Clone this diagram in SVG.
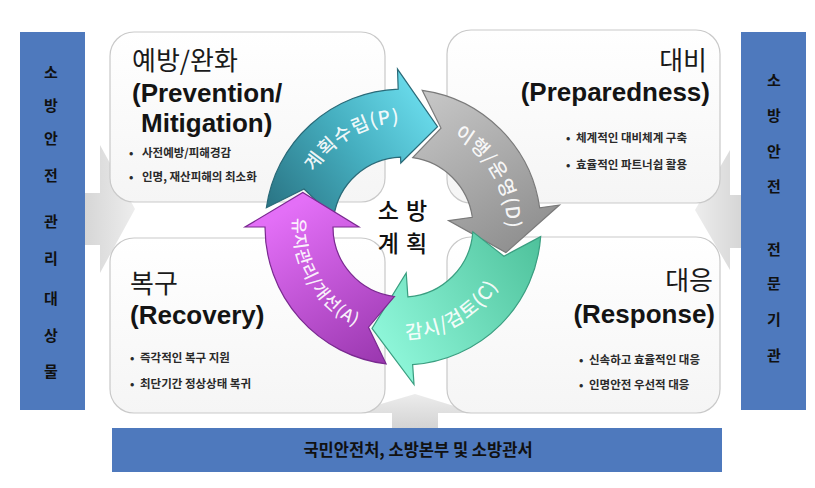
<svg xmlns="http://www.w3.org/2000/svg" width="815" height="488" viewBox="0 0 815 488">
<defs>
<style>
.bar{fill:#4e79bd}
.bart{font-family:"Noto Sans CJK KR","Noto Sans",sans-serif;font-weight:bold;font-size:15px;fill:#111;text-anchor:middle}
.box{fill:url(#boxg);stroke:#c9c9c9;stroke-width:1.2}
.ko{font-family:"Noto Sans CJK KR",sans-serif;font-size:26px;fill:#1a1a1a}
.en{font-family:"Liberation Sans",Arial,sans-serif;font-weight:bold;font-size:26px;fill:#141414}
.bul{font-family:"Noto Sans CJK KR",sans-serif;font-weight:bold;font-size:11.5px;fill:#2a2a2a}
.lbl{font-family:"Noto Sans CJK KR",sans-serif;font-weight:500;font-size:19px;fill:#ffffff;fill-opacity:0.92;letter-spacing:1px}
.ctr{font-family:"Noto Sans CJK KR",sans-serif;font-weight:500;font-size:23px;fill:#111;text-anchor:middle;letter-spacing:1px}
.end{text-anchor:end}
</style>
<linearGradient id="boxg" x1="0" y1="0" x2="0" y2="1"><stop offset="0" stop-color="#ffffff"/><stop offset="1" stop-color="#f5f5f5"/></linearGradient>
<linearGradient id="gh" x1="0" y1="0" x2="1" y2="0"><stop offset="0" stop-color="#d6d6d6"/><stop offset="1" stop-color="#ededed"/></linearGradient>
<linearGradient id="gv" x1="0" y1="1" x2="0" y2="0"><stop offset="0" stop-color="#d4d4d4"/><stop offset="1" stop-color="#ececec"/></linearGradient>
<linearGradient id="gTeal" gradientUnits="userSpaceOnUse" x1="275" y1="215" x2="440" y2="95"><stop offset="0" stop-color="#2a7585"/><stop offset="0.5" stop-color="#45aebf"/><stop offset="1" stop-color="#6fe2f2"/></linearGradient>
<linearGradient id="gGray" gradientUnits="userSpaceOnUse" x1="420" y1="90" x2="520" y2="250"><stop offset="0" stop-color="#c8c8c8"/><stop offset="1" stop-color="#8f8f8f"/></linearGradient>
<linearGradient id="gGreen" gradientUnits="userSpaceOnUse" x1="540" y1="240" x2="375" y2="340"><stop offset="0" stop-color="#4fc29c"/><stop offset="1" stop-color="#8ff7da"/></linearGradient>
<linearGradient id="gMag" gradientUnits="userSpaceOnUse" x1="390" y1="365" x2="295" y2="205"><stop offset="0" stop-color="#9836ad"/><stop offset="1" stop-color="#e36ff7"/></linearGradient>
<path id="tpP" d="M302.54,200.08 A104,104 0 0 1 429.92,126.54"/>
<path id="tpD" d="M429.92,126.54 A104,104 0 0 1 503.46,253.92"/>
<path id="tpC" d="M374.01,335.18 A112,112 0 0 0 511.18,255.99"/>
<path id="tpA" d="M296.75,198.53 A110,110 0 0 0 374.53,333.25"/>
</defs>
<rect width="815" height="488" fill="#ffffff"/>

<g id="connectors">
<polygon fill="url(#gh)" points="85,193 100,193 100,145 135,209 100,273 100,245 85,245"/>
<polygon fill="url(#gh)" transform="translate(826,0) scale(-1,1)" points="85,195 96,195 96,150 131,210 96,270 96,248 85,248"/>
<polygon fill="url(#gv)" points="392,428 392,413 350,413 415,394 477,413 438,413 438,428"/>
</g>

<g id="bar-left">
<rect class="bar" x="20" y="32" width="65" height="378"/>
<text class="bart" x="51" y="77.5">소</text>
<text class="bart" x="51" y="110.5">방</text>
<text class="bart" x="51" y="143.5">안</text>
<text class="bart" x="51" y="180.5">전</text>
<text class="bart" x="51" y="226.5">관</text>
<text class="bart" x="51" y="263.5">리</text>
<text class="bart" x="51" y="303.5">대</text>
<text class="bart" x="51" y="340.5">상</text>
<text class="bart" x="51" y="376.5">물</text>
</g>

<g id="bar-right">
<rect class="bar" x="741" y="32" width="65" height="378"/>
<text class="bart" x="774" y="85.5">소</text>
<text class="bart" x="774" y="120.5">방</text>
<text class="bart" x="774" y="156.5">안</text>
<text class="bart" x="774" y="191.5">전</text>
<text class="bart" x="774" y="254.5">전</text>
<text class="bart" x="774" y="288.5">문</text>
<text class="bart" x="774" y="324.5">기</text>
<text class="bart" x="774" y="360.5">관</text>
</g>

<g id="bar-bottom">
<rect class="bar" x="112" y="428" width="610" height="44"/>
<text class="bart" x="418" y="456" style="font-size:16.5px">국민안전처, 소방본부 및 소방관서</text>
</g>

<g id="box-prevention">
<rect class="box" x="110" y="32" width="275" height="170" rx="24"/>
<text class="ko" x="132" y="70">예방/완화</text>
<text class="en" x="132" y="102">(Prevention/</text>
<text class="en" x="141" y="132">Mitigation)</text>
<text class="bul" x="129" y="157">•<tspan x="142">사전예방/피해경감</tspan></text>
<text class="bul" x="129" y="181">•<tspan x="142">인명, 재산피해의 최소화</tspan></text>
</g>

<g id="box-preparedness">
<rect class="box" x="447" y="30" width="273" height="173" rx="24"/>
<text class="ko end" x="707" y="70">대비</text>
<text class="en end" x="710" y="101">(Preparedness)</text>
<text class="bul" x="566" y="142">•<tspan x="576">체계적인 대비체계 구축</tspan></text>
<text class="bul" x="566" y="169">•<tspan x="576">효율적인 파트너쉽 활용</tspan></text>
</g>

<g id="box-recovery">
<rect class="box" x="110" y="238" width="275" height="175" rx="24"/>
<text class="ko" x="130" y="293">복구</text>
<text class="en" x="130" y="324">(Recovery)</text>
<text class="bul" x="130" y="362">•<tspan x="140">즉각적인 복구 지원</tspan></text>
<text class="bul" x="130" y="388">•<tspan x="140">최단기간 정상상태 복귀</tspan></text>
</g>

<g id="box-response">
<rect class="box" x="447" y="237" width="273" height="176" rx="24"/>
<text class="ko end" x="713" y="290">대응</text>
<text class="en end" x="715" y="323">(Response)</text>
<text class="bul" x="579" y="364">•<tspan x="589">신속하고 효율적인 대응</tspan></text>
<text class="bul" x="579" y="389">•<tspan x="589">인명안전 우선적 대응</tspan></text>
</g>

<g id="arrow-plan">
<path fill="url(#gTeal)" stroke="#2a6a78" stroke-width="1.2" d="M266.34,207.79 A138,138 0 0 1 398.18,89.08 L397.49,69.10 L437.51,126.77 L400.77,163.04 L400.56,157.04 A70,70 0 0 0 333.68,217.26 L304.04,189.01 Z"/>
<text class="lbl"><textPath href="#tpP" startOffset="50%" text-anchor="middle">계획수립(P)</textPath></text>
</g>

<g id="arrow-do">
<path fill="url(#gGray)" stroke="#7a7a7a" stroke-width="1.2" d="M422.21,90.34 A138,138 0 0 1 539.66,207.79 L559.46,205.01 L505.85,252.64 L448.55,220.60 L472.32,217.26 A70,70 0 0 0 412.74,157.68 L440.99,128.04 Z"/>
<text class="lbl"><textPath href="#tpD" startOffset="50%" text-anchor="middle">이행/운영(D)</textPath></text>
</g>

<g id="arrow-check">
<path fill="url(#gGreen)" stroke="#3a9e80" stroke-width="1.2" d="M540.66,236.63 A138,138 0 0 1 412.63,364.66 L414.02,384.62 L372.01,328.37 L406.21,272.89 L407.88,296.83 A70,70 0 0 0 472.83,231.88 L503.89,256.22 Z"/>
<text class="lbl"><textPath href="#tpC" startOffset="50%" text-anchor="middle">감시/검토(C)</textPath></text>
</g>

<g id="arrow-act">
<path fill="url(#gMag)" stroke="#7a2a90" stroke-width="1.2" d="M386.18,363.97 A138,138 0 0 1 265,227 L245,227 L302.78,192.49 L359,227 L333,227 A70,70 0 0 0 394.47,296.48 L368.49,327.22 Z"/>
<text class="lbl" style="font-size:17px"><textPath href="#tpA" startOffset="50%" text-anchor="middle">유지관리/개선(A)</textPath></text>
</g>

<g id="center">
<text class="ctr" x="403" y="219">소 방</text>
<text class="ctr" x="403" y="252">계 획</text>
</g>
</svg>
